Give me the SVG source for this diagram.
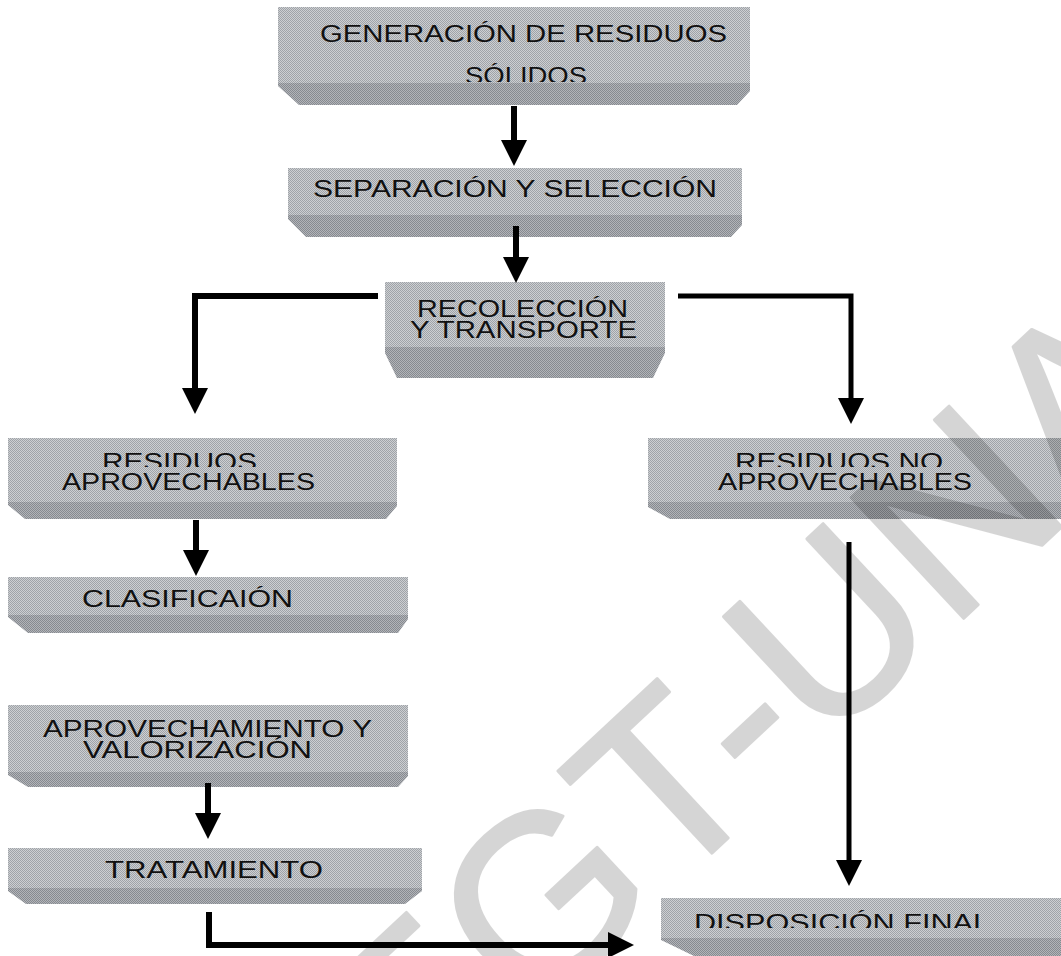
<svg xmlns="http://www.w3.org/2000/svg" width="1061" height="956" viewBox="0 0 1061 956">
  <style>
    .face { fill: url(#dotFace); }
    .band { fill: url(#dotBand); }
    .lbl { font-family: "Liberation Sans", Arial, sans-serif; font-size: 23px; fill: #111; lengthAdjust: spacingAndGlyphs; }
    .wire { fill: none; stroke: #000; stroke-width: 6; stroke-linejoin: miter; }
    .wm { font-family: "Liberation Sans", Arial, sans-serif; font-size: 240px; fill: #000; stroke: #000; stroke-width: 3; stroke-linejoin: round; }
  </style>
  <defs>
    <!-- dithered greys for the bevelled boxes -->
    <pattern id="dotFace" width="2" height="2" patternUnits="userSpaceOnUse">
      <rect width="2" height="2" fill="#cdcfd2"/>
      <rect width="1" height="1" fill="#9fa3a8"/>
      <rect x="1" y="1" width="1" height="1" fill="#9fa3a8"/>
    </pattern>
    <pattern id="dotBand" width="2" height="2" patternUnits="userSpaceOnUse">
      <rect width="2" height="2" fill="#b2b4b8"/>
      <rect width="1" height="1" fill="#868a90"/>
      <rect x="1" y="1" width="1" height="1" fill="#868a90"/>
    </pattern>
    <marker id="head" viewBox="0 0 10 10" refX="5" refY="5" markerUnits="userSpaceOnUse" markerWidth="26" markerHeight="26" orient="auto">
      <path d="M0,0 L10,5 L0,10 z" fill="#000"/>
    </marker>
    <!-- line clips: the first text line is cut by the line below it -->
    <clipPath id="cutB1"><rect x="0" y="0" width="1061" height="82"/></clipPath>
    <clipPath id="cutB4"><rect x="0" y="430" width="1061" height="37"/></clipPath>
    <clipPath id="cutB9"><rect x="0" y="890" width="1061" height="38"/></clipPath>
  </defs>

  <rect width="1061" height="956" fill="#fff"/>

  <g id="node-generacion">
    <rect class="face" x="278" y="7" width="472" height="76"/>
    <polygon class="band" points="278,83 750,83 750,91 737,105 299,105 278,86"/>
    <text class="lbl" x="320" y="42" textLength="407" lengthAdjust="spacingAndGlyphs">GENERACIÓN DE RESIDUOS</text>
    <text class="lbl" x="465" y="84" textLength="122" lengthAdjust="spacingAndGlyphs" clip-path="url(#cutB1)">SÓLIDOS</text>
  </g>

  <g id="node-separacion">
    <rect class="face" x="288" y="168" width="454" height="47"/>
    <polygon class="band" points="288,215 742,215 742,225 731,237 306,237 288,219"/>
    <text class="lbl" x="313" y="197" textLength="404" lengthAdjust="spacingAndGlyphs">SEPARACIÓN Y SELECCIÓN</text>
  </g>

  <g id="node-recoleccion">
    <rect class="face" x="385" y="282" width="280" height="65"/>
    <polygon class="band" points="385,347 665,347 665,353 653,378 397,378 385,353"/>
    <text class="lbl" x="417" y="317" textLength="211" lengthAdjust="spacingAndGlyphs">RECOLECCIÓN</text>
    <text class="lbl" x="410" y="338" textLength="227" lengthAdjust="spacingAndGlyphs">Y TRANSPORTE</text>
  </g>

  <g id="node-aprovechables">
    <rect class="face" x="8" y="438" width="389" height="64"/>
    <polygon class="band" points="8,502 397,502 397,506 386,519 25,519 8,505"/>
    <text class="lbl" x="102" y="470" textLength="155" lengthAdjust="spacingAndGlyphs" clip-path="url(#cutB4)">RESIDUOS</text>
    <text class="lbl" x="62" y="490" textLength="253" lengthAdjust="spacingAndGlyphs">APROVECHABLES</text>
  </g>

  <g id="node-no-aprovechables">
    <rect class="face" x="648" y="438" width="413" height="64"/>
    <polygon class="band" points="648,502 1061,502 1061,519 670,519 648,507"/>
    <text class="lbl" x="735" y="470" textLength="208" lengthAdjust="spacingAndGlyphs" clip-path="url(#cutB4)">RESIDUOS NO</text>
    <text class="lbl" x="718" y="490" textLength="254" lengthAdjust="spacingAndGlyphs">APROVECHABLES</text>
  </g>

  <g id="node-clasificacion">
    <rect class="face" x="8" y="577" width="400" height="38"/>
    <polygon class="band" points="8,615 408,615 408,619 398,633 28,633 8,617"/>
    <text class="lbl" x="82" y="607" textLength="211" lengthAdjust="spacingAndGlyphs">CLASIFICAIÓN</text>
  </g>

  <g id="node-aprovechamiento">
    <rect class="face" x="8" y="705" width="400" height="67"/>
    <polygon class="band" points="8,772 408,772 408,776 398,787 28,787 8,775"/>
    <text class="lbl" x="43" y="737" textLength="329" lengthAdjust="spacingAndGlyphs">APROVECHAMIENTO Y</text>
    <text class="lbl" x="83" y="758" textLength="229" lengthAdjust="spacingAndGlyphs">VALORIZACIÓN</text>
  </g>

  <g id="node-tratamiento">
    <rect class="face" x="8" y="848" width="414" height="40"/>
    <polygon class="band" points="8,888 422,888 422,891 405,904 26,904 8,891"/>
    <text class="lbl" x="105" y="878" textLength="218" lengthAdjust="spacingAndGlyphs">TRATAMIENTO</text>
  </g>

  <g id="node-disposicion">
    <rect class="face" x="661" y="898" width="400" height="40"/>
    <polygon class="band" points="661,938 1061,938 1061,956 694,956 661,940"/>
    <text class="lbl" x="694" y="931" textLength="296" lengthAdjust="spacingAndGlyphs" clip-path="url(#cutB9)">DISPOSICIÓN FINAL</text>
  </g>

  <g id="connectors">
    <path class="wire" d="M514,106 V153" marker-end="url(#head)"/>
    <path class="wire" d="M516,226 V270" marker-end="url(#head)"/>
    <path class="wire" d="M378,296 H195 V401" marker-end="url(#head)"/>
    <path class="wire" d="M678,296 H851 V411" style="stroke-width:5" marker-end="url(#head)"/>
    <path class="wire" d="M196,520 V563" marker-end="url(#head)"/>
    <path class="wire" d="M849,542 V873" style="stroke-width:5" marker-end="url(#head)"/>
    <path class="wire" d="M208,783 V826" marker-end="url(#head)"/>
    <path class="wire" d="M209,912 V945 H621" marker-end="url(#head)"/>
  </g>

  <g id="watermark" opacity="0.16">
    <text class="wm" transform="translate(413,1132) rotate(-43)">EGT-UNA</text>
  </g>
</svg>
